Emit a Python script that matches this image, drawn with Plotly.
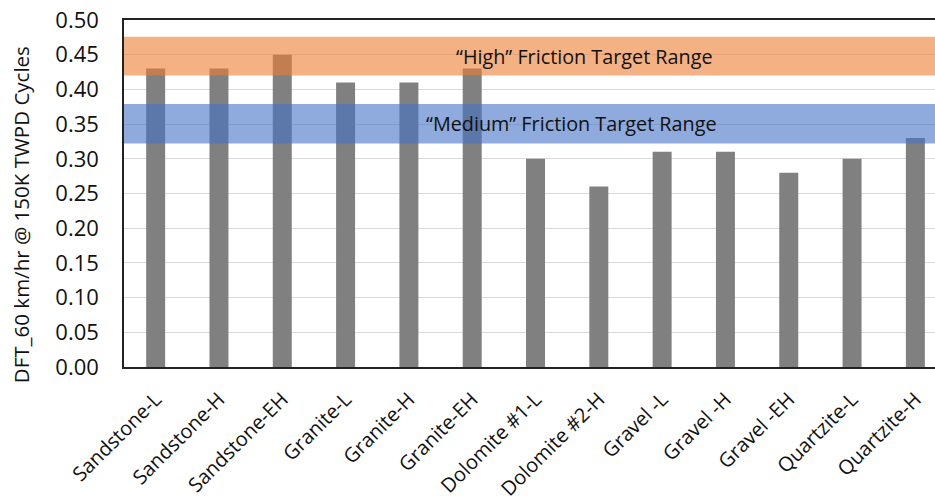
import plotly.graph_objects as go

categories = ["Sandstone-L", "Sandstone-H", "Sandstone-EH", "Granite-L", "Granite-H",
              "Granite-EH", "Dolomite #1-L", "Dolomite #2-H", "Gravel -L", "Gravel -H",
              "Gravel -EH", "Quartzite-L", "Quartzite-H"]
dft_values = [0.43, 0.43, 0.45, 0.41, 0.41, 0.43, 0.30, 0.26, 0.31, 0.31, 0.28, 0.30, 0.33]
y_ticks = [0.00, 0.05, 0.10, 0.15, 0.20, 0.25, 0.30, 0.35, 0.40, 0.45, 0.50]
high_range = [0.42, 0.476]
medium_range = [0.322, 0.379]
y_title = "DFT_60 km/hr @ 150K TWPD Cycles"

FONT = "Open Sans"
TXT = "#111111"

fig = go.Figure()
fig.add_trace(go.Bar(x=categories, y=dft_values, marker_color="#808080",
                     marker_line_width=0, width=0.30))

fig.add_hrect(y0=high_range[0], y1=high_range[1], fillcolor="#ED7D31", opacity=0.6,
              line_width=0, layer="above")
fig.add_hrect(y0=medium_range[0], y1=medium_range[1], fillcolor="#4472C4", opacity=0.6,
              line_width=0, layer="above")

fig.add_annotation(x=0.729, xref="paper", y=sum(high_range) / 2, yref="y",
                   text="\u201cHigh\u201d Friction Target Range", showarrow=False,
                   font=dict(family=FONT, size=19.8, color=TXT))
fig.add_annotation(x=0.734, xref="paper", y=sum(medium_range) / 2, yref="y",
                   text="\u201cMedium\u201d Friction Target Range", showarrow=False,
                   font=dict(family=FONT, size=19.8, color=TXT))
fig.add_annotation(x=-0.126, xref="paper", y=0.44, yref="paper", textangle=-90,
                   xanchor="center", yanchor="middle", text=y_title, showarrow=False,
                   font=dict(family=FONT, size=20.5, color=TXT))

fig.update_layout(
    width=935, height=501,
    margin=dict(l=124, r=0, t=20, b=134, autoexpand=False),
    plot_bgcolor="white", paper_bgcolor="white",
    showlegend=False,
    font=dict(family=FONT, color=TXT),
)
fig.update_xaxes(range=[-0.5, 12.31], showline=True, linecolor="#222222", linewidth=1.5,
                 mirror=True, showgrid=False, ticks="", tickangle=-45, automargin=False,
                 ticklabelstandoff=11, ticklabeloverflow="allow",
                 tickfont=dict(family=FONT, size=20, color=TXT))
fig.update_yaxes(range=[0, 0.5], tickvals=y_ticks, tickformat=".2f", showline=True,
                 linecolor="#222222", linewidth=1.5, mirror=True, showgrid=True,
                 gridcolor="#d9d9d9", gridwidth=1, ticks="", ticklabelstandoff=19,
                 zeroline=False, automargin=False, ticklabeloverflow="allow",
                 tickfont=dict(family=FONT, size=22, color=TXT))

fig.write_html("out.html", config={"displayModeBar": False},
               post_script="document.body.style.margin='0';")
